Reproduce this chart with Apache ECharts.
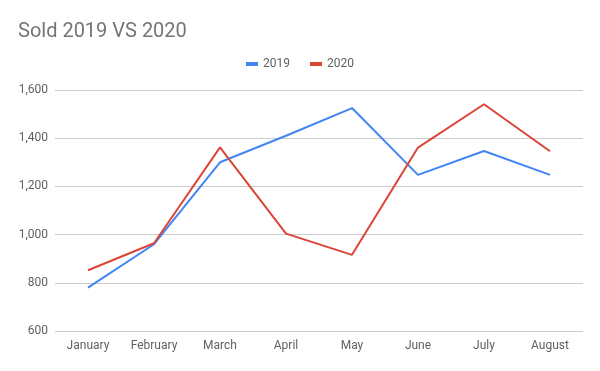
<!DOCTYPE html>
<html><head><meta charset="utf-8">
<script src="https://cdn.jsdelivr.net/npm/echarts@6/dist/echarts.min.js"></script>
<style>html,body{margin:0;padding:0;background:#fff}#c{width:600px;height:371px}</style>
</head><body><div id="c"></div>
<script>
const categories = ['January','February','March','April','May','June','July','August'];
const sold2019 = [780, 960, 1300, 1410, 1525, 1248, 1347, 1248];
const sold2020 = [852, 964, 1362, 1004, 916, 1361, 1541, 1346];
const seriesNames = ['2019', '2020'];
const chart = echarts.init(document.getElementById('c'));
chart.setOption({
  animation: false,
  backgroundColor: '#fff',
  textStyle: { fontFamily: 'Roboto' },
  title: { text: 'Sold 2019 VS 2020', left: 13, top: 17,
    textStyle: { fontFamily: 'Roboto', fontSize: 20, fontWeight: 'normal', color: '#757575' } },
  legend: { top: 53, left: 'center', itemWidth: 12, itemHeight: 4, itemGap: 20,
    icon: 'rect', textStyle: { fontFamily: 'Roboto', fontSize: 12, color: '#616161' },
    data: seriesNames },
  grid: { left: 55, right: 17, top: 90, bottom: 40 },
  xAxis: { type: 'category', data: categories, boundaryGap: true,
    axisLine: { show: false }, axisTick: { show: false },
    axisLabel: { color: '#616161', fontSize: 12, fontFamily: 'Roboto', margin: 9 } },
  yAxis: { type: 'value', min: 600, max: 1600, interval: 200,
    axisLine: { show: false }, axisTick: { show: false },
    splitLine: { lineStyle: { color: '#cccccc', width: 1 } },
    axisLabel: { color: '#616161', fontSize: 12, fontFamily: 'Roboto', margin: 7,
      formatter: v => v.toLocaleString('en-US') } },
  series: [
    { name: seriesNames[0], type: 'line', data: sold2019, symbol: 'none',
      lineStyle: { color: '#4285F4', width: 2 }, itemStyle: { color: '#4285F4' } },
    { name: seriesNames[1], type: 'line', data: sold2020, symbol: 'none',
      lineStyle: { color: '#DB4437', width: 2 }, itemStyle: { color: '#DB4437' } }
  ]
});
</script></body></html>
